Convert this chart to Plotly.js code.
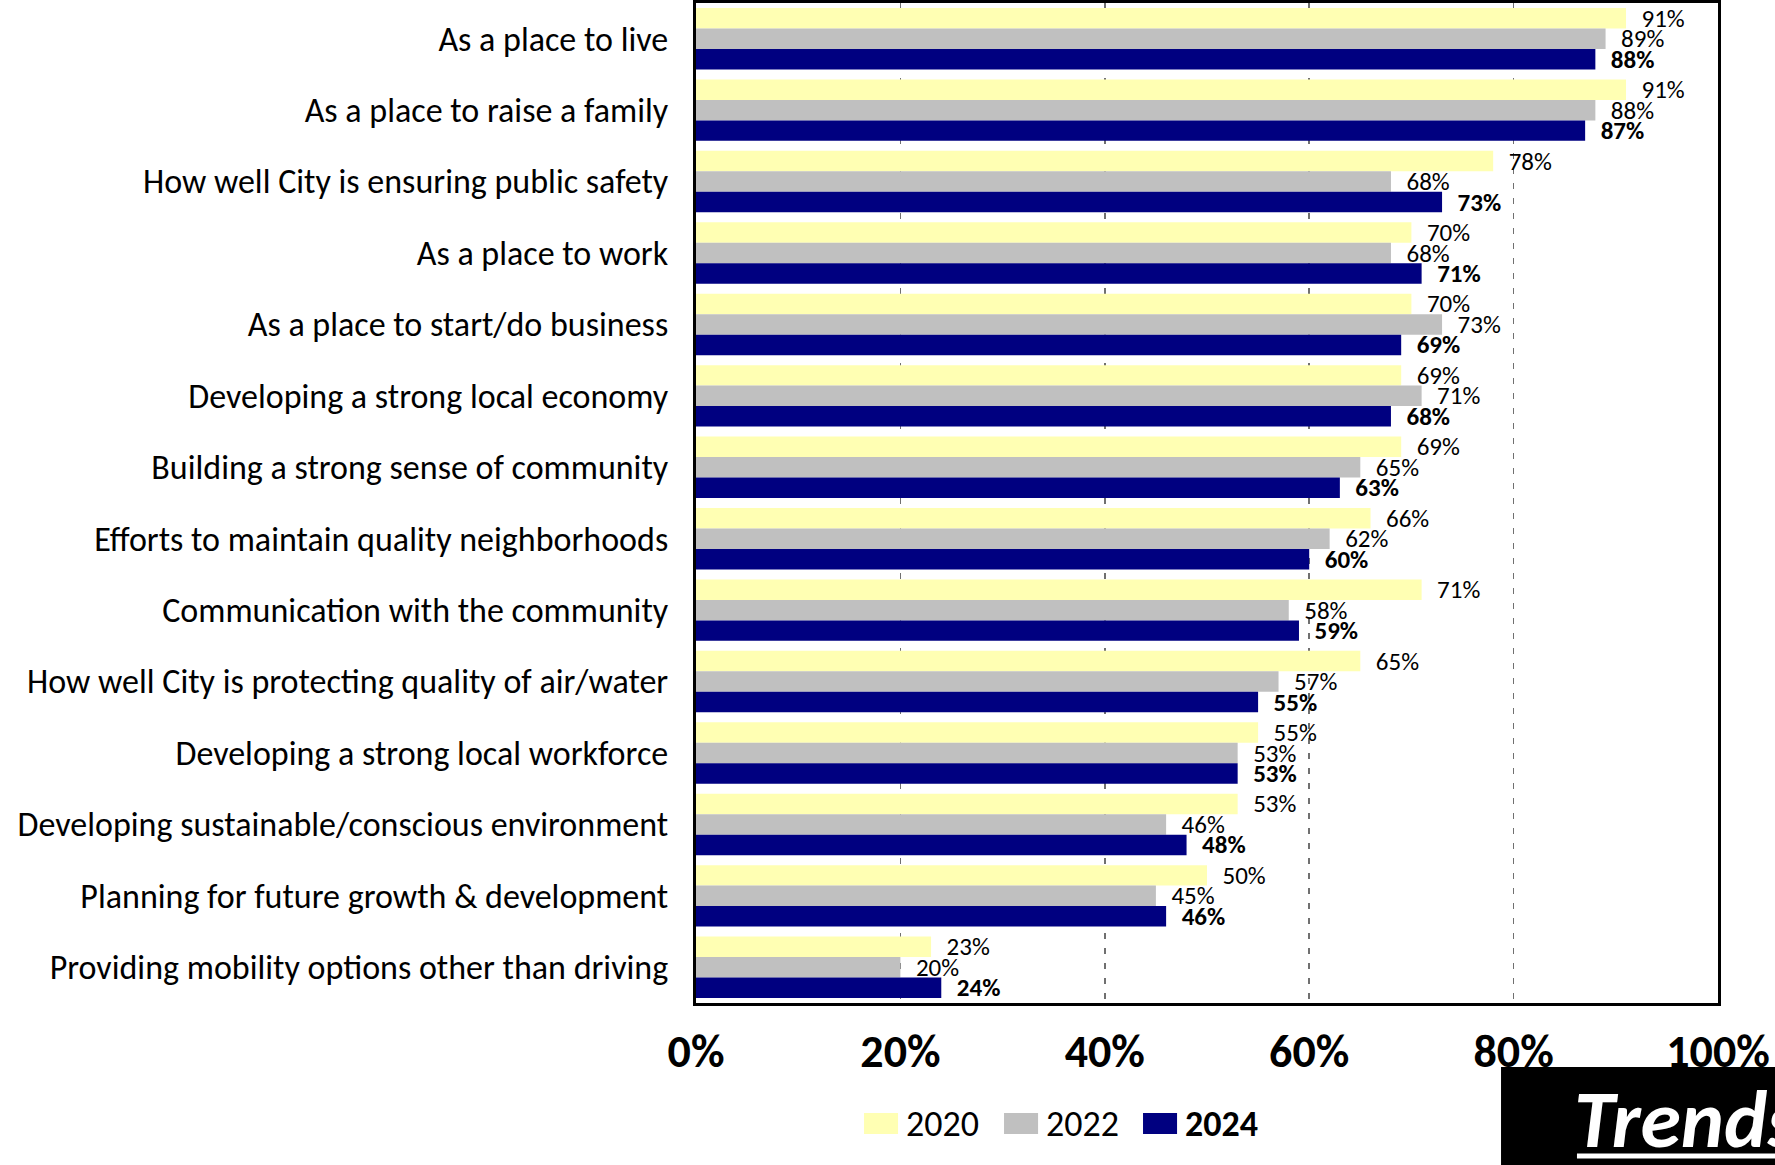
<!DOCTYPE html>
<html>
<head>
<meta charset="utf-8">
<script src="https://cdn.plot.ly/plotly-3.0.1.min.js"></script>
<style>html,body{margin:0;padding:0;background:#fff;}#chart{width:1775px;height:1165px;}</style>
</head>
<body>
<div id="chart"></div>
<script>
const categories = [
  "As a place to live",
  "As a place to raise a family",
  "How well City is ensuring public safety",
  "As a place to work",
  "As a place to start/do business",
  "Developing a strong local economy",
  "Building a strong sense of community",
  "Efforts to maintain quality neighborhoods",
  "Communication with the community",
  "How well City is protecting quality of air/water",
  "Developing a strong local workforce",
  "Developing sustainable/conscious environment",
  "Planning for future growth & development",
  "Providing mobility options other than driving"
];
const seriesNames = ["2020", "2022", "2024"];
const values2020 = [91, 91, 78, 70, 70, 69, 69, 66, 71, 65, 55, 53, 50, 23];
const values2022 = [89, 88, 68, 68, 73, 71, 65, 62, 58, 57, 53, 46, 45, 20];
const values2024 = [88, 87, 73, 71, 69, 68, 63, 60, 59, 55, 53, 48, 46, 24];
const xTickValues = [0, 20, 40, 60, 80, 100];
const badgeText = "Trends";

const colors = ["#FFFFB3", "#C0C0C0", "#000080"];
const FONT = "Carlito, Lato, 'Open Sans', sans-serif";
const allValues = [values2020, values2022, values2024];

const traces = allValues.map((vals, i) => ({
  type: "bar",
  orientation: "h",
  name: seriesNames[i],
  y: categories,
  x: vals,
  marker: {color: colors[i], line: {width: 0}},
  text: vals.map(v => v + "%"),
  texttemplate: i === 2 ? "\u2002<b>%{text}</b>" : "\u2002%{text}",
  textposition: "outside",
  textangle: 0,
  constraintext: "none",
  cliponaxis: false,
  textfont: {family: FONT, size: 25, color: "#000"},
  showlegend: false,
  hoverinfo: "skip"
}));

// custom legend (positions in paper coordinates)
const legendX = [0.1644, 0.3014, 0.4374];
const swatchW = 0.0333;
const shapes = [];
const annotations = [];
seriesNames.forEach((n, i) => {
  shapes.push({type: "rect", xref: "paper", yref: "paper",
    x0: legendX[i], x1: legendX[i] + swatchW, y0: -0.131, y1: -0.110,
    fillcolor: colors[i], line: {width: 0}});
  annotations.push({xref: "paper", yref: "paper", x: legendX[i] + swatchW + 0.006, y: -0.1205,
    xanchor: "left", yanchor: "middle", showarrow: false,
    text: i === 2 ? "<b>" + n + "</b>" : n,
    font: {family: FONT, size: 36, color: "#000"}});
});
// Trends badge
shapes.push({type: "rect", xref: "paper", yref: "paper",
  x0: 0.7877, x1: 1.2, y0: -0.064, y1: -0.25,
  fillcolor: "#000", line: {width: 0}});
shapes.push({type: "line", xref: "paper", yref: "paper",
  x0: 0.862, x1: 1.2, y0: -0.153, y1: -0.153,
  line: {color: "#fff", width: 5}});
annotations.push({xref: "paper", yref: "paper", x: 0.857, y: -0.116,
  xanchor: "left", yanchor: "middle", showarrow: false,
  text: "<b><i>" + badgeText + "</i></b>",
  font: {family: FONT, size: 82, color: "#fff"}});

const layout = {
  width: 1775, height: 1165,
  margin: {l: 696, r: 57, t: 3, b: 162, pad: 0},
  paper_bgcolor: "#fff", plot_bgcolor: "#fff",
  barmode: "group", bargap: 0.14, bargroupgap: 0,
  showlegend: false,
  xaxis: {
    range: [0, 100], tickvals: xTickValues, ticktext: xTickValues.map(v => v + "%"),
    showgrid: true, gridcolor: "#707070", gridwidth: 1.5, griddash: "6px,9px",
    zeroline: false, showline: true, mirror: true, linecolor: "#000", linewidth: 3,
    ticks: "", ticklabelstandoff: 6,
    tickfont: {family: FONT, size: 46, color: "#000", weight: "bold"}
  },
  yaxis: {
    type: "category", autorange: "reversed",
    showgrid: false, zeroline: false, showline: true, mirror: true, linecolor: "#000", linewidth: 3,
    ticks: "", ticklabelstandoff: 18,
    tickfont: {family: FONT, size: 34, color: "#000"}
  },
  shapes: shapes,
  annotations: annotations,
  font: {family: FONT}
};

Plotly.newPlot("chart", traces, layout, {displayModeBar: false, staticPlot: true});
</script>
</body>
</html>
